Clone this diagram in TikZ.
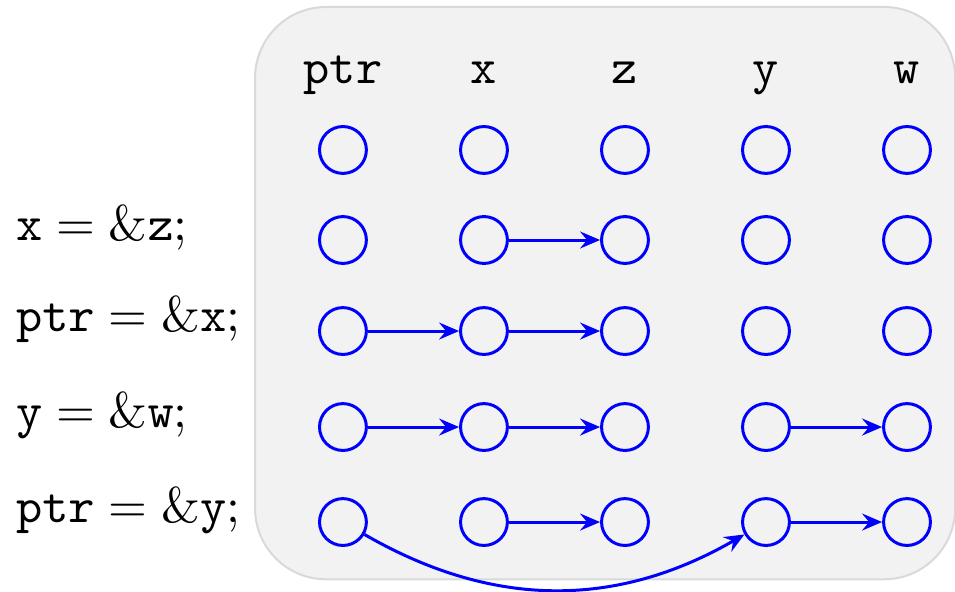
\documentclass[tikz,border=0pt]{standalone}
\usepackage{amsmath}
\usepackage{xcolor}
\usetikzlibrary{arrows.meta}

\begin{document}
\begin{tikzpicture}[
    dot/.style={draw=blue, semithick, circle, minimum size=0.33cm, inner sep=0pt},
    lbl/.style={anchor=base, font=\ttfamily},
    stmt/.style={anchor=base west, inner sep=0pt},
    arr/.style={-{Stealth[length=4pt, width=3.4pt, inset=1.4pt]}, blue, semithick}
]
\useasboundingbox (0,0) rectangle (6.725,-4.162);
\node[draw=gray!30, fill=gray!10, rounded corners=0.5cm, minimum width=4.93cm, minimum height=4.03cm, anchor=north west] (memory) at (1.789,-0.042) {};

% variables and their cells, one row per step
\foreach \c/\cx in {ptr/2.415, x/3.408, z/4.401, y/5.394, w/6.387} {
  \node[lbl] (h\c) at (\cx,-0.585) {\c};
  \foreach \r/\ry in {1/-1.056, 2/-1.690, 3/-2.331, 4/-3.007, 5/-3.676}
    \node[dot] (\c\r) at (\cx,\ry) {};
}

\node[stmt] (s2) at (0.106,-1.690) {$\mathtt{x} = \&\mathtt{z};$};
\node[stmt] (s3) at (0.106,-2.331) {$\mathtt{ptr} = \&\mathtt{x};$};
\node[stmt] (s4) at (0.106,-3.007) {$\mathtt{y} = \&\mathtt{w};$};
\node[stmt] (s5) at (0.106,-3.676) {$\mathtt{ptr} = \&\mathtt{y};$};

\draw[arr] (x2) -- (z2);
\draw[arr] (ptr3) -- (x3);
\draw[arr] (x3) -- (z3);
\draw[arr] (ptr4) -- (x4);
\draw[arr] (x4) -- (z4);
\draw[arr] (y4) -- (w4);
\draw[arr] (x5) -- (z5);
\draw[arr] (y5) -- (w5);
\draw[arr] (ptr5) to[bend right=30] (y5);
\end{tikzpicture}
\end{document}
